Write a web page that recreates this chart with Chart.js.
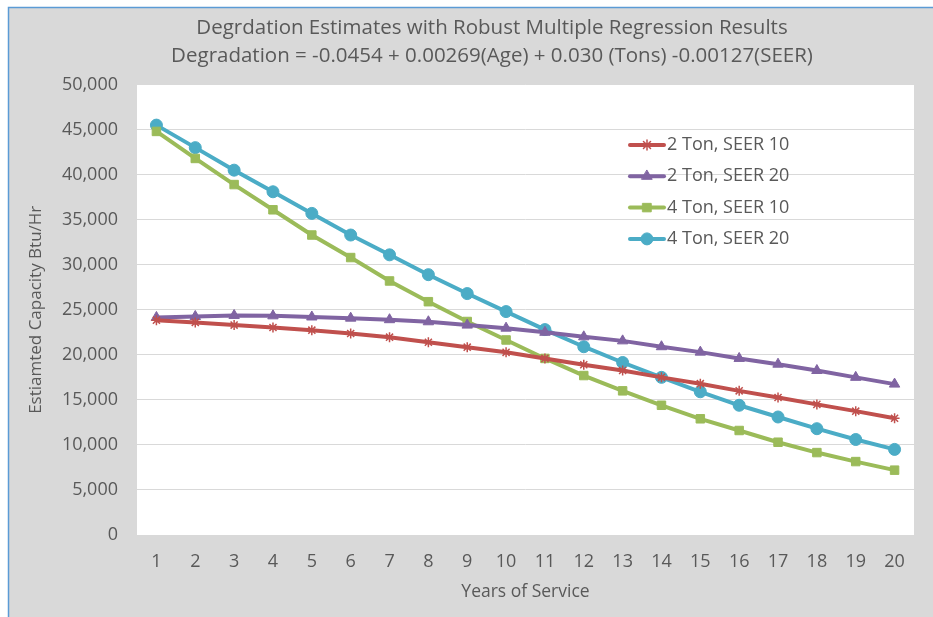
<!DOCTYPE html>
<html>
<head>
<meta charset="utf-8">
<script src="https://cdn.jsdelivr.net/npm/chart.js@4"></script>
<style>
  html, body { margin: 0; padding: 0; background: #ffffff; }
  #wrap { position: absolute; left: 0; top: 0; width: 933px; height: 617px; }
</style>
</head>
<body>
<div id="wrap"><canvas id="c" width="933" height="617"></canvas></div>
<script>
const years = ['1','2','3','4','5','6','7','8','9','10','11','12','13','14','15','16','17','18','19','20'];
const ton2Seer10 = [23850,23600,23300,23040,22740,22370,21960,21400,20850,20280,19600,18900,18260,17500,16800,16000,15260,14500,13750,12960];
const ton2Seer20 = [24150,24260,24370,24330,24200,24070,23900,23670,23300,22960,22500,22000,21550,20900,20300,19600,18960,18260,17500,16750];
const ton4Seer10 = [44800,41800,38900,36100,33300,30800,28200,25900,23700,21650,19600,17700,16000,14400,12900,11600,10300,9150,8150,7200];
const ton4Seer20 = [45500,43000,40500,38100,35700,33300,31100,28900,26800,24800,22800,20900,19150,17500,15900,14400,13100,11800,10600,9500];
const seriesNames = ['2 Ton, SEER 10','2 Ton, SEER 20','4 Ton, SEER 10','4 Ton, SEER 20'];
const titleLines = ['Degrdation Estimates with Robust Multiple Regression Results',
                    'Degradation = -0.0454 + 0.00269(Age) + 0.030 (Tons) -0.00127(SEER)'];
const xTitle = 'Years of Service';
const yTitle = 'Estiamted Capacity Btu/Hr';

const FONT = 'Open Sans';
const TXT = '#595959';

const bgPlugin = {
  id: 'bg',
  afterLayout(chart) {
    if (chart.titleBlock) {
      chart.titleBlock.left += 24;
      chart.titleBlock.right += 24;
    }
  },
  beforeDraw(chart) {
    const ctx = chart.ctx;
    const ca = chart.chartArea;
    ctx.save();
    ctx.fillStyle = '#ffffff';
    ctx.fillRect(0, 0, chart.width, chart.height);
    ctx.fillStyle = '#d9d9d9';
    ctx.fillRect(8, 7, chart.width - 8, chart.height - 7);
    ctx.strokeStyle = '#5b9bd5';
    ctx.lineWidth = 1.5;
    ctx.beginPath();
    ctx.moveTo(8.5, chart.height);
    ctx.lineTo(8.5, 7.5);
    ctx.lineTo(chart.width, 7.5);
    ctx.stroke();
    ctx.fillStyle = '#ffffff';
    ctx.fillRect(ca.left, ca.top, ca.right - ca.left, ca.bottom - ca.top);
    ctx.restore();
  }
};

const legendPlugin = {
  id: 'insideLegend',
  afterDatasetsDraw(chart) {
    const ctx = chart.ctx;
    const x0 = 630, y0 = 145, gap = 31.3;
    ctx.save();
    ctx.textBaseline = 'middle';
    chart.data.datasets.forEach((ds, i) => {
      const y = y0 + i * gap;
      ctx.strokeStyle = ds.borderColor;
      ctx.lineWidth = 4;
      ctx.lineCap = 'round';
      ctx.beginPath();
      ctx.moveTo(x0, y);
      ctx.lineTo(x0 + 34, y);
      ctx.stroke();
      ctx.fillStyle = ds.borderColor;
      ctx.strokeStyle = ds.borderColor;
      ctx.lineWidth = ds.pointBorderWidth;
      Chart.helpers.drawPoint(ctx, {
        pointStyle: ds.pointStyle,
        radius: ds.pointRadius,
        rotation: 0,
        borderWidth: ds.pointBorderWidth
      }, x0 + 17, y);
      ctx.font = '18px "' + FONT + '"';
      ctx.fillStyle = TXT;
      ctx.fillText(ds.label, x0 + 37, y);
    });
    ctx.restore();
  }
};

function ds(label, data, color, style, radius) {
  return {
    label: label,
    data: data,
    borderColor: color,
    backgroundColor: color,
    pointBackgroundColor: color,
    pointBorderColor: color,
    pointStyle: style,
    pointRadius: radius,
    pointBorderWidth: style === 'star' ? 1.5 : 1,
    borderWidth: 4,
    tension: 0,
    fill: false
  };
}

new Chart(document.getElementById('c'), {
  type: 'line',
  data: {
    labels: years,
    datasets: [
      ds(seriesNames[0], ton2Seer10, '#c0504d', 'star', 5),
      ds(seriesNames[1], ton2Seer20, '#8064a2', 'triangle', 6),
      ds(seriesNames[2], ton4Seer10, '#9bbb59', 'rect', 6),
      ds(seriesNames[3], ton4Seer20, '#4bacc6', 'circle', 6)
    ]
  },
  options: {
    responsive: false,
    animation: false,
    layout: { padding: { top: 14, left: 22, right: 19, bottom: 10 } },
    plugins: {
      legend: { display: false },
      tooltip: { enabled: false },
      title: {
        display: true,
        text: titleLines,
        color: TXT,
        font: { family: FONT, size: 20.5, weight: 'normal', lineHeight: 1.38 },
        padding: { top: 0, bottom: 14 }
      }
    },
    scales: {
      x: {
        offset: true,
        grid: { display: false, drawTicks: false },
        border: { display: false },
        ticks: { color: TXT, font: { family: FONT, size: 18 }, padding: 16, maxRotation: 0 },
        title: { display: true, text: xTitle, color: TXT, font: { family: FONT, size: 17.5 }, padding: { top: 2 } },
        afterFit(scale) { scale.height = 72; }
      },
      y: {
        min: 0,
        max: 50000,
        grid: { color: '#d9d9d9', lineWidth: 1, drawTicks: false },
        border: { display: false },
        ticks: {
          stepSize: 5000,
          color: TXT,
          font: { family: FONT, size: 18 },
          padding: 19,
          callback: v => v.toLocaleString('en-US')
        },
        title: { display: true, text: yTitle, color: TXT, font: { family: FONT, size: 17 }, padding: { bottom: 0 } },
        afterFit(scale) { scale.width = 115; }
      }
    }
  },
  plugins: [bgPlugin, legendPlugin]
});
</script>
</body>
</html>
